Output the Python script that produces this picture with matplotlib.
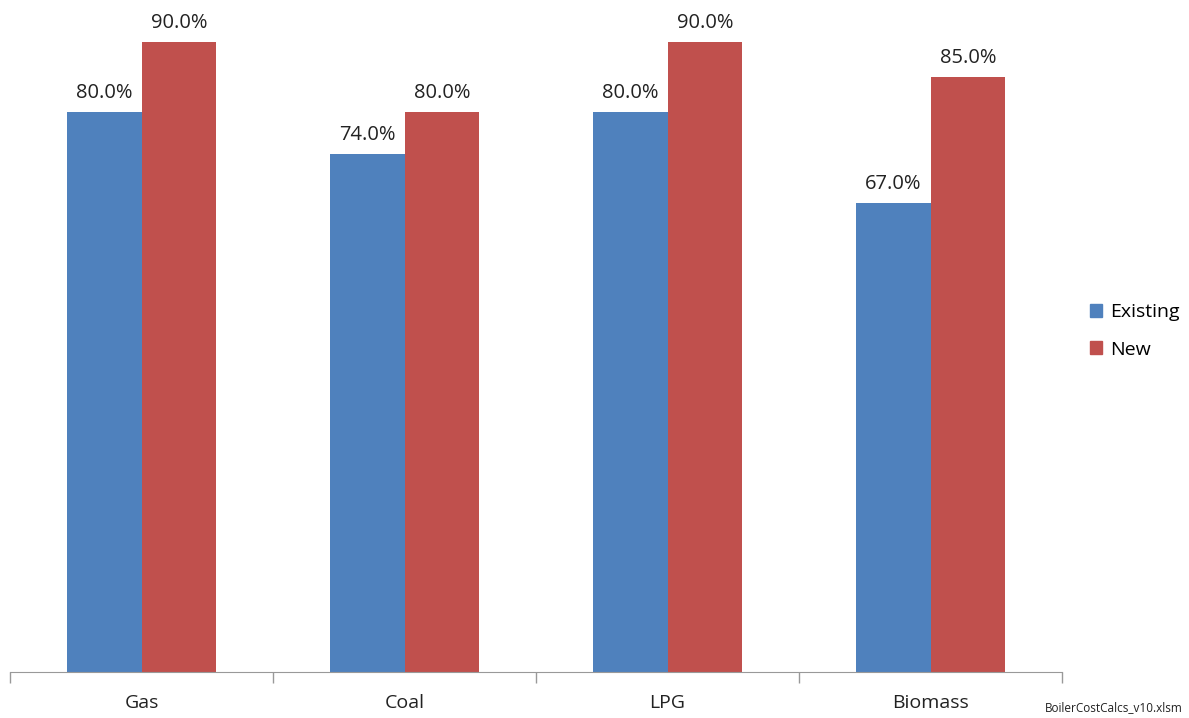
import numpy as np
import matplotlib.pyplot as plt
from matplotlib.patches import Patch

categories = ["Gas", "Coal", "LPG", "Biomass"]
existing = [0.80, 0.74, 0.80, 0.67]
new = [0.90, 0.80, 0.90, 0.85]

BLUE = "#4f81bd"
RED = "#c0504d"

plt.rcParams['font.family'] = ['Open Sans', 'DejaVu Sans']

fig = plt.figure(figsize=(11.89, 7.18), dpi=100)
ax = fig.add_axes([10 / 1189, 46 / 718, 1052 / 1189, 672 / 718])

x = np.arange(len(categories))
w = 0.285
b1 = ax.bar(x - w / 2, existing, w, color=BLUE)
b2 = ax.bar(x + w / 2, new, w, color=RED)

for bars, vals in ((b1, existing), (b2, new)):
    for rect, v in zip(bars, vals):
        ax.text(rect.get_x() + rect.get_width() / 2, v + 0.013, f"{v * 100:.1f}%",
                ha='center', va='bottom', fontsize=14.5, color='#222222')

ax.set_xlim(-0.5, len(categories) - 0.5)
ax.set_ylim(0, 0.96)
for s in ('left', 'top', 'right'):
    ax.spines[s].set_visible(False)
ax.spines['bottom'].set_color('#999999')
ax.set_yticks([])
ax.set_xticks(x)
ax.set_xticklabels(categories, fontsize=14, color='#222222')
ax.tick_params(axis='x', which='major', length=0, pad=16)
ax.set_xticks(np.arange(-0.5, len(categories)), minor=True)
ax.tick_params(axis='x', which='minor', length=8, color='#999999', width=1)

handles = [Patch(color=BLUE, label='Existing'), Patch(color=RED, label='New')]
fig.legend(handles=handles, loc='center left', bbox_to_anchor=(1072 / 1189, 1 - 331 / 718),
           frameon=False, fontsize=14, handlelength=0.65, handleheight=0.65,
           handletextpad=0.4, labelspacing=1.0)

fig.text(1183 / 1189, 1 - 708 / 718, "BoilerCostCalcs_v10.xlsm", ha='right', va='center',
         fontsize=8.5, color='#222222')

fig.savefig("out.png", dpi=100)
